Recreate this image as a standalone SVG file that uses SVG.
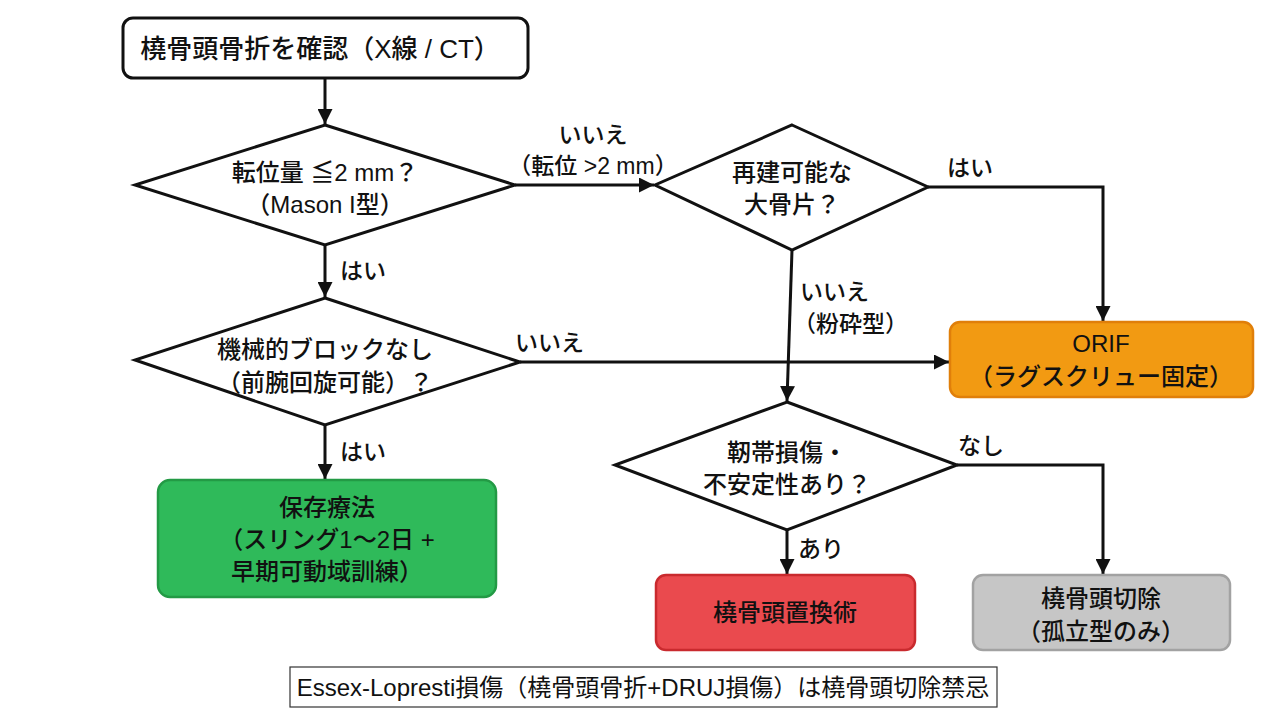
<svg xmlns="http://www.w3.org/2000/svg" width="1280" height="714" viewBox="0 0 1280 714">
<defs>
<style>
.tc{font-family:"Liberation Sans","Noto Sans CJK JP",sans-serif;font-size:24px;fill:#111;text-anchor:middle;font-weight:500}
.lb{font-family:"Liberation Sans","Noto Sans CJK JP",sans-serif;font-size:23px;fill:#111;font-weight:500}
.sh{stroke:#111;stroke-width:3;fill:#fff}
.ln{stroke:#111;stroke-width:3;fill:none}
</style>
<marker id="ah" viewBox="0 0 10 10" refX="10" refY="5" markerWidth="5" markerHeight="5" orient="auto" markerUnits="strokeWidth">
<path d="M0,0L10,5L0,10z" fill="#111"/>
</marker>
</defs>
<rect width="1280" height="714" fill="#fff"/>
<g id="connectors">
<line class="ln" x1="325" y1="78" x2="325" y2="124" marker-end="url(#ah)"/>
<line class="ln" x1="515" y1="185" x2="654" y2="185" marker-end="url(#ah)"/>
<polyline class="ln" points="928,187 1103,187 1103,321" marker-end="url(#ah)"/>
<line class="ln" x1="792" y1="250" x2="787" y2="401" marker-end="url(#ah)"/>
<line class="ln" x1="325" y1="245" x2="325" y2="297" marker-end="url(#ah)"/>
<line class="ln" x1="520" y1="362" x2="949" y2="362" marker-end="url(#ah)"/>
<line class="ln" x1="325" y1="425" x2="325" y2="479" marker-end="url(#ah)"/>
<polyline class="ln" points="957,465 1103,465 1103,574" marker-end="url(#ah)"/>
<line class="ln" x1="787" y1="530" x2="787" y2="574" marker-end="url(#ah)"/>
<text class="lb" x="593" y="143" text-anchor="middle">いいえ</text>
<text class="lb" x="593" y="174" text-anchor="middle">（転位 &gt;2 mm）</text>
<text class="lb" x="947" y="176">はい</text>
<text class="lb" x="800" y="300">いいえ</text>
<text class="lb" x="793" y="332">（粉砕型）</text>
<text class="lb" x="340" y="279">はい</text>
<text class="lb" x="515" y="351">いいえ</text>
<text class="lb" x="340" y="460">はい</text>
<text class="lb" x="958" y="454">なし</text>
<text class="lb" x="798" y="557">あり</text>
</g>
<g id="start">
<rect x="123" y="18" width="405" height="60" rx="10" class="sh"/>
<text class="tc" x="320" y="58" style="font-size:26px">橈骨頭骨折を確認（X線 / CT）</text>
</g>
<g id="d1">
<polygon class="sh" points="325,125 515,185 325,245 135,185"/>
<text class="tc" x="325" y="181">転位量 ≦2 mm？</text>
<text class="tc" x="325" y="213">（Mason I型）</text>
</g>
<g id="d2">
<polygon class="sh" points="792,125 928,187 792,250 655,185"/>
<text class="tc" x="792" y="181">再建可能な</text>
<text class="tc" x="792" y="213">大骨片？</text>
</g>
<g id="d3">
<polygon class="sh" points="325,298 520,362 325,425 135,360"/>
<text class="tc" x="325" y="358">機械的ブロックなし</text>
<text class="tc" x="325" y="391">（前腕回旋可能）？</text>
</g>
<g id="d4">
<polygon class="sh" points="787,402 957,465 787,530 615,465"/>
<text class="tc" x="787" y="461">靭帯損傷・</text>
<text class="tc" x="787" y="493">不安定性あり？</text>
</g>
<g id="orif">
<rect x="950" y="322" width="303" height="75" rx="10" fill="#F29A12" stroke="#E07F0A" stroke-width="2.5"/>
<text class="tc" x="1101" y="352">ORIF</text>
<text class="tc" x="1101" y="385">（ラグスクリュー固定）</text>
</g>
<g id="conservative">
<rect x="158" y="480" width="338" height="117" rx="12" fill="#2FBA5A" stroke="#239A45" stroke-width="2.5"/>
<text class="tc" x="327" y="516">保存療法</text>
<text class="tc" x="327" y="548">（スリング1〜2日 +</text>
<text class="tc" x="327" y="580">早期可動域訓練）</text>
</g>
<g id="replace">
<rect x="656" y="575" width="259" height="75" rx="10" fill="#EA4A4E" stroke="#C92A2E" stroke-width="2.5"/>
<text class="tc" x="785" y="621">橈骨頭置換術</text>
</g>
<g id="resect">
<rect x="973" y="575" width="257" height="75" rx="10" fill="#C6C6C6" stroke="#A2A2A2" stroke-width="2.5"/>
<text class="tc" x="1101" y="607">橈骨頭切除</text>
<text class="tc" x="1101" y="640">（孤立型のみ）</text>
</g>
<g id="note">
<rect x="290" y="667" width="707" height="40" fill="#fff" stroke="#333" stroke-width="1.2"/>
<text x="643" y="696" style="font-family:'Liberation Sans','Noto Sans CJK JP',sans-serif;font-size:24px;fill:#111;text-anchor:middle">Essex-Lopresti損傷（橈骨頭骨折+DRUJ損傷）は橈骨頭切除禁忌</text>
</g>
</svg>
